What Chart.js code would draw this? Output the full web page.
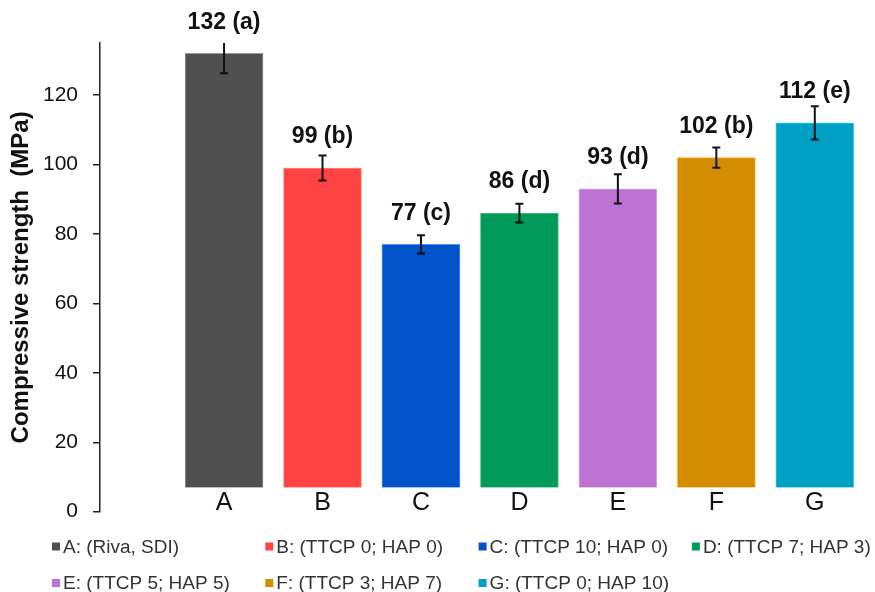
<!DOCTYPE html>
<html>
<head>
<meta charset="utf-8">
<script src="https://cdn.jsdelivr.net/npm/chart.js@4/dist/chart.umd.min.js"></script>
<style>
  html, body { margin: 0; padding: 0; background: #fff; }
  #wrap { width: 875px; height: 592px; }
</style>
</head>
<body>
<div id="wrap"><canvas id="myChart" width="875" height="592"></canvas></div>
<script>
// data
let categories = ['A', 'B', 'C', 'D', 'E', 'F', 'G'];
let strength = [132, 99, 77, 86, 93, 102, 112];
let sd = [5.7, 3.6, 2.6, 2.7, 4.2, 2.9, 4.8];
let groups = ['a', 'b', 'c', 'd', 'd', 'b', 'e'];
let legendLabels = [
    'A: (Riva, SDI)', 'B: (TTCP 0; HAP 0)', 'C: (TTCP 10; HAP 0)', 'D: (TTCP 7; HAP 3)',
    'E: (TTCP 5; HAP 5)', 'F: (TTCP 3; HAP 7)', 'G: (TTCP 0; HAP 10)'
];
let yTicks = [0, 20, 40, 60, 80, 100, 120];

let colors = ['#4f4f4f', '#ff4343', '#0053c9', '#009b5a', '#bc73d3', '#d48c00', '#00a0c4'];
let edges = ['#9a9a9a', '#ff8a8a', '#4a90ff', '#4cc48c', '#dfa6f2', '#ffb52e', '#3fd2f2'];

// error bars + value labels on top of each bar
const barExtras = {
    id: 'barExtras',
    afterDatasetsDraw(chart) {
        const ctx = chart.ctx;
        const y = chart.scales.y;
        const area = chart.chartArea;
        const meta = chart.getDatasetMeta(0);
        ctx.save();
        ctx.beginPath();
        ctx.rect(area.left, area.top, area.right - area.left, area.bottom - area.top);
        ctx.clip();
        ctx.strokeStyle = '#111';
        ctx.lineWidth = 2;
        meta.data.forEach((bar, i) => {
            let x = bar.x;
            let top = y.getPixelForValue(strength[i] + sd[i]);
            let bot = y.getPixelForValue(strength[i] - sd[i]);
            ctx.beginPath();
            ctx.moveTo(x, top); ctx.lineTo(x, bot);
            ctx.moveTo(x - 4, top); ctx.lineTo(x + 4, top);
            ctx.moveTo(x - 4, bot); ctx.lineTo(x + 4, bot);
            ctx.stroke();
        });
        ctx.restore();

        ctx.save();
        ctx.fillStyle = '#111';
        ctx.font = 'bold 23px "Liberation Sans", Arial, sans-serif';
        ctx.textAlign = 'center';
        ctx.textBaseline = 'middle';
        meta.data.forEach((bar, i) => {
            ctx.fillText(strength[i] + ' (' + groups[i] + ')', bar.x, y.getPixelForValue(strength[i]) - 31);
        });
        ctx.restore();
    }
};

// legend laid out as a grid, four items per row
const gridLegend = {
    id: 'gridLegend',
    afterDraw(chart) {
        const ctx = chart.ctx;
        ctx.save();
        ctx.font = '19px "Liberation Sans", Arial, sans-serif';
        ctx.textBaseline = 'middle';
        ctx.textAlign = 'left';
        for (let i = 0; i < legendLabels.length; i++) {
            let col = i % 4;
            let row = Math.floor(i / 4);
            let bx = 52 + col * 213.3;
            let by = 546.5 + row * 36.5;
            ctx.fillStyle = colors[i];
            ctx.fillRect(bx, by - 4, 8, 8);
            ctx.fillStyle = '#333';
            ctx.fillText(legendLabels[i], bx + 11, by + 1);
        }
        ctx.restore();
    }
};

var ctx = document.getElementById('myChart').getContext('2d');
var myChart = new Chart(ctx, {
    type: 'bar',
    data: {
        datasets: [{
            data: strength.map((v, i) => ({ x: i, y: v })),
            base: 7,
            backgroundColor: colors,
            borderColor: edges,
            borderWidth: 1,
            barThickness: 78
        }]
    },
    options: {
        responsive: false,
        animation: false,
        layout: { padding: { top: 43, right: 10, left: 0, bottom: 0 } },
        plugins: {
            legend: { display: false },
            tooltip: { enabled: false }
        },
        scales: {
            x: {
                type: 'linear',
                min: -1.26,
                max: 6.51,
                offset: false,
                z: 1,
                grid: { display: false, drawTicks: false },
                border: { display: false },
                ticks: {
                    stepSize: 1,
                    autoSkip: false,
                    includeBounds: false,
                    maxRotation: 0,
                    mirror: true,
                    padding: -6,
                    color: '#111',
                    font: { size: 25, family: '"Liberation Sans", Arial, sans-serif' },
                    callback: (v) => (Number.isInteger(v) && v >= 0 && v < categories.length ? categories[v] : '')
                },
                afterFit: (scale) => { scale.height = 80.3; }
            },
            y: {
                min: 0,
                max: 135,
                afterBuildTicks: (scale) => { scale.ticks = yTicks.map(v => ({ value: v })); },
                grid: { drawOnChartArea: false, drawTicks: true, tickLength: 7, color: '#222', lineWidth: 1.5 },
                border: { display: true, color: '#222', width: 1.5 },
                ticks: {
                    padding: 15,
                    color: '#111',
                    font: { size: 21, family: '"Liberation Sans", Arial, sans-serif' }
                },
                title: {
                    display: true,
                    text: 'Compressive strength  (MPa)',
                    color: '#111',
                    padding: { top: 7, bottom: 0 },
                    font: { size: 24, weight: 'bold', family: '"Liberation Sans", Arial, sans-serif' }
                },
                afterFit: (scale) => { scale.width = 100; }
            }
        }
    },
    plugins: [barExtras, gridLegend]
});
</script>
</body>
</html>
